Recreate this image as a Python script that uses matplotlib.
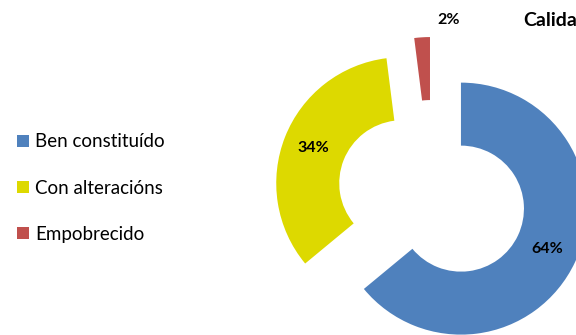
import matplotlib
matplotlib.use("Agg")
import matplotlib.pyplot as plt
from matplotlib.patches import Patch

categories = ["Ben constituído", "Con alteracións", "Empobrecido"]
values = [64, 34, 2]
colors = ["#4F81BD", "#DDD900", "#C0504D"]
title = "Calidade"

plt.rcParams["font.family"] = ["Lato", "DejaVu Sans"]

W, H = 576, 335
fig = plt.figure(figsize=(W / 100, H / 100), dpi=100)
ax = fig.add_axes([0, 0, 1, 1])

R = 126
ring = 63
wedges, texts, autotexts = ax.pie(
    values,
    colors=colors,
    startangle=90,
    counterclock=False,
    center=(432, 140),
    radius=R,
    explode=[32] * len(values),
    wedgeprops=dict(width=ring, linewidth=0),
    autopct=lambda p: f"{p:.0f}%",
    pctdistance=0.76,
    textprops=dict(fontsize=11.5, fontweight="bold", color="black"),
)
# small slice label sits outside the ring
autotexts[2].set_position((449, 315))

ax.set_xlim(0, W)
ax.set_ylim(0, H)
ax.set_aspect("equal")
ax.axis("off")

ax.text(523, 314, title, fontsize=14, fontweight="bold", ha="left", va="center")

handles = [Patch(facecolor=c, edgecolor="none") for c in colors]
fig.legend(
    handles, categories,
    loc="center left", bbox_to_anchor=(17 / W, 1 - 188 / H),
    frameon=False, fontsize=13.5,
    borderpad=0, borderaxespad=0,
    handlelength=0.62, handleheight=0.62, handletextpad=0.35,
    labelspacing=1.56,
)

fig.savefig("out.png", dpi=100)
